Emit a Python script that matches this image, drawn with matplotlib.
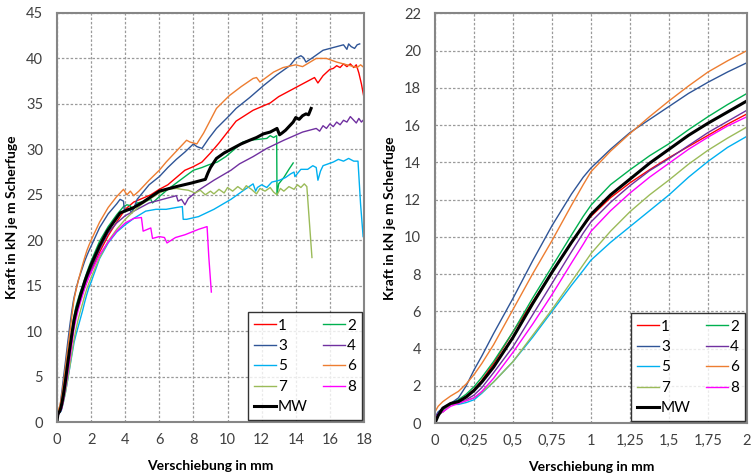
import matplotlib
matplotlib.use("Agg")
import matplotlib.pyplot as plt

plt.rcParams['font.family'] = ['Lato', 'DejaVu Sans']

# common start of every curve (0..2 mm)
x_start = [0, 0.02, 0.05, 0.1, 0.15, 0.2, 0.25, 0.3, 0.375, 0.5, 0.625, 0.75, 0.875, 0.95, 1.0,
           1.125, 1.25, 1.375, 1.5, 1.625, 1.75, 1.875, 2.0]

# test 1
y1_a = [0.2, 0.45, 0.6, 1.0, 1.2, 1.45, 1.8, 2.3, 3.2, 4.9, 6.5, 8.1, 9.7, 10.6, 11.1,
        12.1, 12.9, 13.6, 14.25, 14.85, 15.45, 16.05, 16.6]
x1_b = [2.5, 3.0, 3.5, 4.0, 4.5, 5.0, 5.5, 6.0, 6.5, 7.0, 7.5, 8.0, 8.5, 9.0, 9.5, 10.0,
        10.5, 11.0, 11.5, 12.0, 12.5, 13.0, 13.5, 14.0, 14.5, 15.0, 15.1, 15.3, 15.6, 16.0,
        16.2, 16.4, 16.6, 16.8, 17.0, 17.2, 17.4, 17.55, 17.7, 17.85, 18.0]
y1_b = [18.7, 20.5, 22.0, 23.4, 24.2, 24.6, 25.0, 25.6, 26.1, 26.9, 27.7, 28.1, 28.6, 29.6, 30.7, 31.9,
        33.1, 33.7, 34.3, 34.7, 35.1, 35.8, 36.3, 36.8, 37.3, 37.8, 37.9, 37.3, 38.1, 38.8,
        38.9, 39.2, 39.0, 39.4, 39.1, 39.4, 39.0, 39.3, 38.4, 37.2, 35.7]

# test 2
y2_a = [0.2, 0.5, 0.65, 1.05, 1.25, 1.55, 1.95, 2.45, 3.3, 4.9, 6.7, 8.4, 10.1, 11.1, 11.7,
        12.8, 13.6, 14.35, 15.0, 15.75, 16.45, 17.1, 17.7]
x2_b = [2.5, 3.0, 3.5, 3.9, 4.1, 4.3, 4.4, 4.7, 5.2, 5.5, 5.6, 6.0, 6.5, 7.0, 7.5, 8.0,
        8.5, 8.9, 9.4, 9.9, 10.4, 10.9, 11.3, 11.8, 12.3, 12.5, 12.7, 12.88, 12.9, 13.0,
        13.3, 13.6, 13.85]
y2_b = [19.9, 21.5, 22.8, 23.7, 23.9, 23.8, 23.3, 24.1, 24.3, 24.5, 24.1, 24.8, 25.6, 26.3, 27.0, 27.7,
        28.0, 28.3, 28.6, 29.2, 30.0, 30.8, 31.0, 31.1, 31.2, 31.5, 31.3, 31.5, 25.0, 26.2,
        26.9, 27.8, 28.5]

# test 3
y3_a = [0.3, 0.6, 0.8, 1.05, 1.35, 2.0, 2.85, 3.6, 4.8, 6.7, 8.7, 10.6, 12.3, 13.2, 13.7,
        14.7, 15.6, 16.3, 17.0, 17.7, 18.3, 18.85, 19.35]
x3_b = [2.5, 3.0, 3.5, 3.7, 3.9, 3.95, 4.2, 4.4, 4.7, 5.4, 6.0, 6.5, 7.0, 7.5, 8.0, 8.2,
        8.5, 8.9, 9.35, 10.1, 10.5, 11.3, 12.1, 12.9, 13.65, 14.0, 14.3, 14.45, 14.6, 15.0,
        15.6, 16.0, 16.4, 16.8, 17.0, 17.1, 17.25, 17.45, 17.6, 17.75]
y3_b = [21.4, 22.9, 24.0, 24.5, 24.3, 23.2, 23.5, 23.0, 24.5, 26.1, 27.0, 28.0, 28.9, 29.7, 30.6, 30.3,
        30.1, 31.2, 32.3, 33.7, 34.5, 35.7, 37.0, 38.2, 39.2, 40.0, 40.3, 40.1, 39.6, 40.1,
        40.9, 41.1, 41.3, 41.5, 41.0, 41.6, 41.3, 41.1, 41.5, 41.6]

# test 4
y4_a = [0.2, 0.5, 0.65, 1.0, 1.1, 1.25, 1.5, 1.9, 2.7, 4.1, 5.8, 7.5, 9.2, 10.2, 10.8,
        11.85, 12.75, 13.55, 14.2, 14.9, 15.6, 16.2, 16.8]
x4_b = [2.5, 3.0, 3.5, 4.0, 4.5, 5.0, 5.4, 6.0, 6.4, 7.0, 7.1, 7.3, 7.5, 7.7, 8.3, 9.2,
        10.2, 10.7, 11.5, 12.3, 13.3, 14.4, 15.2, 15.4, 15.6, 15.8, 16.0, 16.2, 16.4, 16.6,
        16.8, 17.0, 17.2, 17.4, 17.55, 17.7, 17.85, 18.0]
y4_b = [19.0, 20.8, 21.9, 22.7, 23.2, 23.7, 24.1, 24.4, 24.6, 24.9, 24.3, 24.5, 23.9, 24.6, 25.5, 26.6,
        27.7, 28.4, 29.2, 30.1, 31.0, 31.9, 32.3, 32.0, 32.6, 32.3, 32.8, 32.5, 33.0, 32.7,
        33.2, 33.0, 33.6, 33.2, 32.9, 33.4, 33.0, 33.3]

# test 5
y5_a = [0.2, 0.45, 0.6, 1.0, 1.0, 1.1, 1.25, 1.6, 2.2, 3.3, 4.6, 6.0, 7.4, 8.2, 8.75,
        9.7, 10.55, 11.4, 12.25, 13.2, 14.05, 14.8, 15.4]
x5_b = [2.5, 3.0, 3.5, 4.0, 4.5, 5.2, 5.8, 6.4, 7.0, 7.35, 7.4, 7.6, 8.3, 9.2, 10.2, 10.95,
        11.5, 11.65, 11.75, 12.0, 12.3, 12.6, 13.05, 13.4, 13.7, 13.9, 13.95, 14.3, 14.7,
        15.0, 15.2, 15.3, 15.45, 15.6, 15.9, 16.2, 16.5, 16.8, 17.1, 17.4, 17.65, 17.8, 17.95]
y5_b = [18.0, 19.7, 20.9, 21.7, 22.4, 23.2, 23.4, 23.4, 23.6, 23.7, 22.3, 22.3, 22.6, 23.4, 24.5, 25.5,
        26.2, 25.4, 25.8, 26.1, 25.8, 26.4, 26.6, 26.9, 27.3, 27.5, 27.0, 27.8, 27.8,
        28.2, 28.0, 26.6, 27.6, 28.2, 28.4, 28.6, 28.9, 28.7, 29.0, 28.7, 28.7, 24.0, 20.4]

# test 6
y6_a = [0.6, 0.9, 1.15, 1.45, 1.7, 2.1, 2.6, 3.2, 4.2, 6.1, 8.0, 9.8, 11.7, 12.8, 13.5,
        14.6, 15.55, 16.45, 17.3, 18.1, 18.85, 19.45, 20.0]
x6_b = [2.5, 3.0, 3.5, 3.9, 4.1, 4.3, 4.5, 4.8, 5.4, 6.0, 6.4, 7.0, 7.6, 7.8, 8.2, 8.6,
        9.35, 10.1, 10.8, 11.5, 11.7, 11.9, 12.7, 13.26, 14.0, 14.4, 15.2, 15.8, 16.4,
        17.0, 17.6, 17.8, 18.0]
y6_b = [22.0, 23.6, 24.8, 25.6, 25.0, 25.4, 24.9, 25.4, 26.6, 27.7, 28.6, 29.8, 31.0, 30.8, 30.6, 31.8,
        34.5, 35.9, 36.9, 37.8, 37.9, 37.4, 38.5, 39.0, 39.3, 39.1, 40.0, 40.0, 39.6,
        39.3, 39.0, 39.3, 39.0]

# test 7
y7_a = [0.2, 0.45, 0.6, 1.0, 1.05, 1.2, 1.35, 1.65, 2.2, 3.3, 4.7, 6.1, 7.6, 8.5, 9.1,
        10.3, 11.35, 12.25, 13.05, 13.9, 14.65, 15.3, 15.9]
x7_b = [2.5, 3.0, 3.5, 4.0, 4.5, 5.0, 5.5, 6.0, 6.5, 7.0, 7.3, 7.7, 8.1, 8.4, 8.7, 9.0,
        9.2, 9.5, 9.8, 10.0, 10.3, 10.6, 10.9, 11.1, 11.4, 11.7, 11.9, 12.2, 12.5, 12.7,
        12.9, 13.1, 13.3, 13.6, 13.9, 14.1, 14.3, 14.5, 14.65, 14.8, 14.95]
y7_b = [18.1, 19.9, 21.2, 22.3, 23.2, 24.0, 24.6, 25.2, 25.6, 25.7, 25.6, 25.5, 25.2, 25.5, 25.0, 25.4,
        25.1, 25.6, 25.2, 25.8, 25.4, 25.9, 25.5, 26.0, 25.6, 25.1, 25.7, 25.4, 25.8, 25.3,
        25.0, 25.7, 25.4, 25.9, 25.6, 26.1, 25.8, 26.2, 25.9, 22.0, 18.1]

# test 8
y8_a = [0.2, 0.5, 0.6, 0.9, 1.05, 1.2, 1.35, 1.7, 2.4, 3.8, 5.3, 6.9, 8.6, 9.6, 10.3,
        11.4, 12.35, 13.2, 13.95, 14.7, 15.35, 15.95, 16.45]
x8_b = [2.5, 3.0, 3.5, 4.0, 4.5, 4.95, 5.05, 5.5, 5.6, 6.0, 6.3, 6.45, 6.95, 7.5, 8.3,
        8.8, 8.9, 9.05]
y8_b = [18.4, 19.8, 21.0, 21.9, 22.4, 22.5, 21.0, 21.35, 20.2, 20.4, 20.3, 19.7, 20.3, 20.6, 21.2,
        21.5, 18.2, 14.3]

# mean value (MW)
ymw_a = [0.0, 0.4, 0.8, 1.05, 1.15, 1.4, 1.75, 2.2, 3.0, 4.6, 6.4, 8.1, 9.7, 10.6, 11.2,
         12.25, 13.1, 13.95, 14.7, 15.45, 16.1, 16.7, 17.3]
xmw_b = [2.5, 2.95, 3.7, 4.5, 5.05, 6.0, 7.0, 7.9, 8.3, 8.7, 8.85, 9.0, 9.35, 9.8, 10.3,
         10.8, 11.3, 11.7, 12.1, 12.5, 12.9, 13.05, 13.2, 13.4, 13.65, 13.85, 14.0, 14.2,
         14.4, 14.6, 14.75, 14.9]
ymw_b = [19.4, 21.0, 23.0, 23.6, 24.2, 25.4, 25.9, 26.3, 26.5, 26.7, 27.4, 28.0, 29.0, 29.6, 30.1,
         30.6, 31.0, 31.3, 31.7, 31.9, 32.3, 31.6, 31.8, 32.1, 32.6, 33.0, 33.5, 33.3,
         33.7, 33.9, 33.8, 34.5]

labels = ['1', '2', '3', '4', '5', '6', '7', '8']
colors = ['#FF0000', '#00B050', '#2F5597', '#7030A0', '#00B0F0', '#ED7D31', '#9BBB59', '#FF00FF']
xs = [x_start + x1_b, x_start + x2_b, x_start + x3_b, x_start + x4_b,
      x_start + x5_b, x_start + x6_b, x_start + x7_b, x_start + x8_b]
ys = [y1_a + y1_b, y2_a + y2_b, y3_a + y3_b, y4_a + y4_b,
      y5_a + y5_b, y6_a + y6_b, y7_a + y7_b, y8_a + y8_b]
x_mw = x_start + xmw_b
y_mw = ymw_a + ymw_b

right_ticks = [0, 0.25, 0.5, 0.75, 1, 1.25, 1.5, 1.75, 2]
right_ticklabels = ['0', '0,25', '0,5', '0,75', '1', '1,25', '1,5', '1,75', '2']

fig = plt.figure(figsize=(7.52, 4.76), dpi=100)
ax1 = fig.add_axes([0.0758, 0.1134, 0.4082, 0.8593])
ax2 = fig.add_axes([0.5785, 0.1113, 0.4149, 0.8607])

for ax in [ax1, ax2]:
    handles = []
    for x, y, c, lab in zip(xs, ys, colors, labels):
        h, = ax.plot(x, y, color=c, lw=1.0, label=lab)
        handles.append(h)
    h_mw, = ax.plot(x_mw, y_mw, color='black', lw=2.2, label='MW')
    # legend rows: 1 2 / 3 4 / 5 6 / 7 8 / MW
    order = [handles[0], handles[2], handles[4], handles[6], h_mw,
             handles[1], handles[3], handles[5], handles[7]]
    leg = ax.legend(handles=order, ncol=2, loc='lower right', bbox_to_anchor=(0.993, 0.004),
                    borderaxespad=0, fontsize=11, frameon=True, fancybox=False,
                    handlelength=1.4, handletextpad=0.15, columnspacing=1.0,
                    labelspacing=0.42, borderpad=0.4)
    leg.get_frame().set_edgecolor('black')
    leg.get_frame().set_linewidth(1.0)

    ax.grid(True, color='#9A9A9A', linestyle=(0, (2, 1.5)), lw=0.9)
    ax.set_axisbelow(True)
    for sp in ax.spines.values():
        sp.set_color('#868686')
        sp.set_linewidth(1.5)
    ax.tick_params(length=0, labelsize=10.5, labelcolor='#404040')
    ax.tick_params(axis='x', pad=8)
    ax.tick_params(axis='y', pad=10)
    ax.set_xlabel('Verschiebung in mm', fontsize=10, fontweight='bold', labelpad=9)
    ax.set_ylabel('Kraft in kN je m Scherfuge', fontsize=10, fontweight='bold', labelpad=6)

ax1.set_xlim(0, 18)
ax1.set_ylim(0, 45)
ax1.set_xticks(range(0, 19, 2))
ax1.set_yticks(range(0, 46, 5))

ax2.set_xlim(0, 2)
ax2.set_ylim(0, 22)
ax2.set_xticks(right_ticks, labels=right_ticklabels)
ax2.set_yticks(range(0, 23, 2))

fig.savefig('out.png', dpi=100)
